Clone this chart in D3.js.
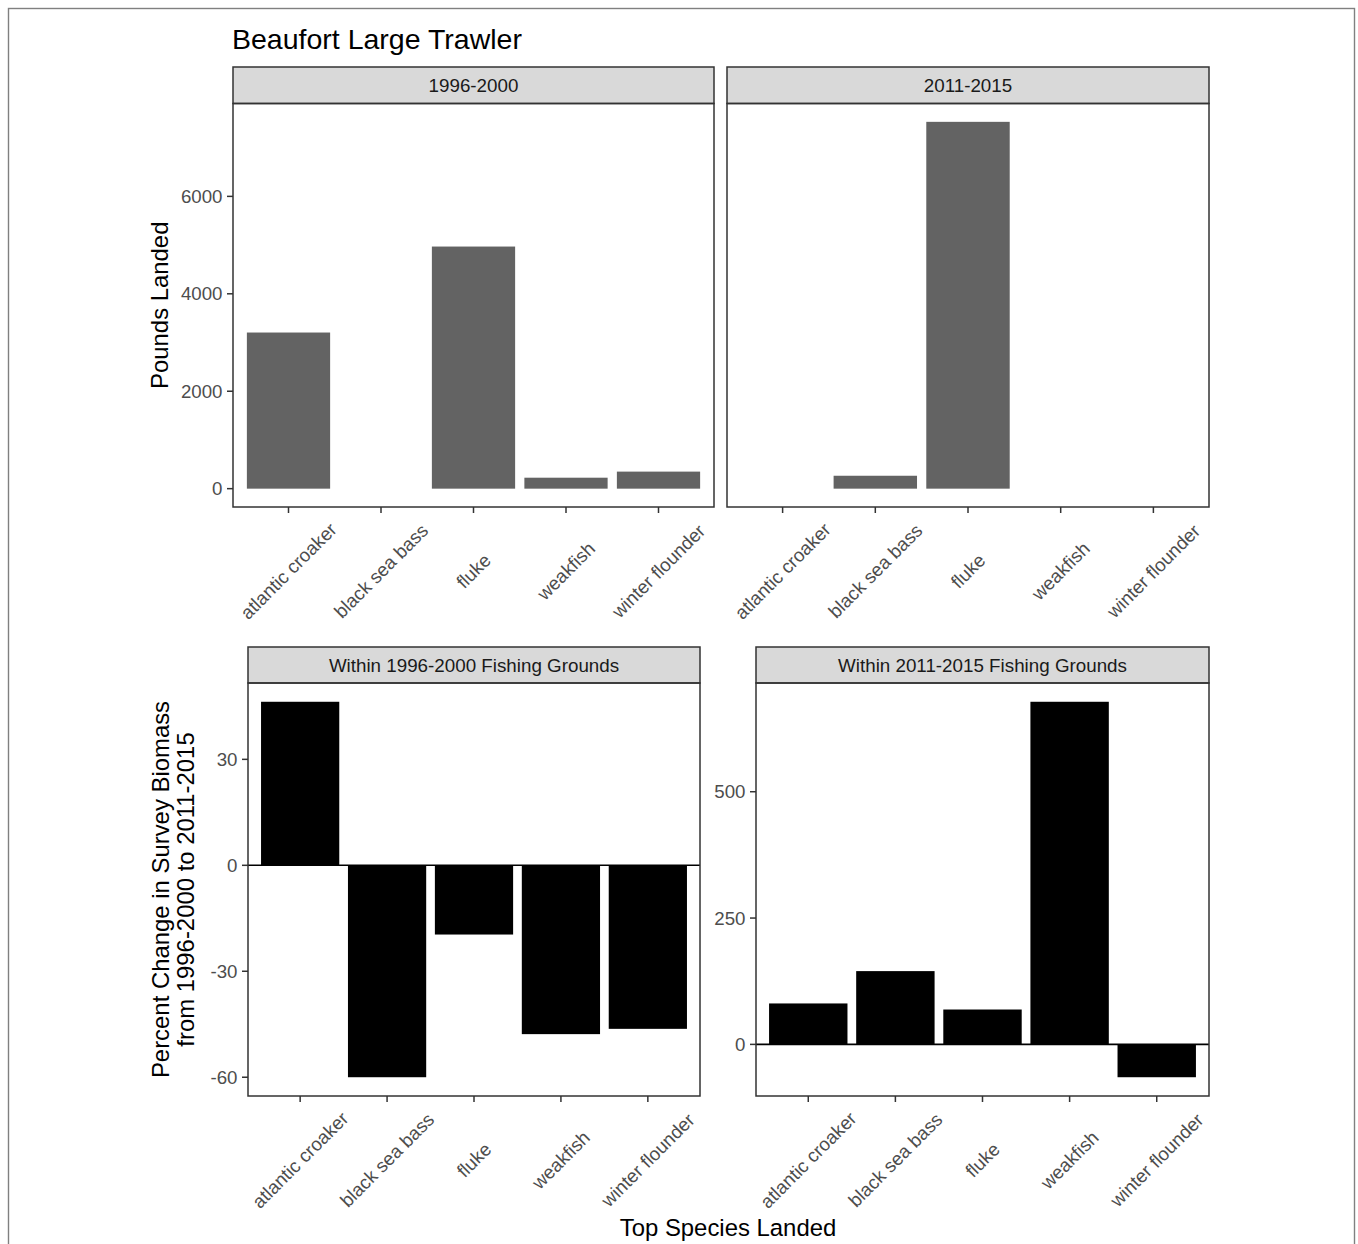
<!DOCTYPE html>
<html>
<head>
<meta charset="utf-8">
<script src="https://cdn.jsdelivr.net/npm/d3@7"></script>
<style>
  html, body { margin: 0; padding: 0; background: #fff; }
  svg { display: block; font-family: "Liberation Sans", Arial, Helvetica, sans-serif; }
</style>
</head>
<body>
<svg id="chart" width="1358" height="1244"></svg>
<script>
// ---------------- data ----------------
const species = ["atlantic croaker", "black sea bass", "fluke", "weakfish", "winter flounder"];
const periods = ["1996-2000", "2011-2015"];
const landed_1996_2000 = [3205, null, 4970, 225, 350];
const landed_2011_2015 = [null, 265, 7530, null, null];
const changeGrounds = ["Within 1996-2000 Fishing Grounds", "Within 2011-2015 Fishing Grounds"];
const change_1996_2000 = [46.3, -60.0, -19.6, -47.8, -46.3];
const change_2011_2015 = [81, 145, 69, 678, -65];
const landedTicks = [0, 2000, 4000, 6000];
const changeTicks9600 = [-60, -30, 0, 30];
const changeTicks1115 = [0, 250, 500];

// ---------------- helpers ----------------
const svg = d3.select("#chart");
const TICK_COLOR = "#333333", LABEL_COLOR = "#4D4D4D";
const FS_TICK = 18.7, FS_STRIP = 18.8, FS_AXIS = 23.9, FS_TITLE = 28.5;

// outer frame
svg.append("rect").attr("x", 8.5).attr("y", 8.5).attr("width", 1346).attr("height", 1270)
  .attr("fill", "none").attr("stroke", "#808080").attr("stroke-width", 1.4);

function expandDomain(vals) {
  const v = vals.filter(d => d != null).concat([0]);
  const [lo, hi] = d3.extent(v);
  const r = hi - lo;
  return [lo - 0.05 * r, hi + 0.05 * r];
}

function panel(opts) {
  const { left, right, stripTop, top, bottom, label, values, yScale, ticks, showY, fill, zeroLine } = opts;
  const g = svg.append("g");
  const x = d3.scaleBand().domain(species).range([left, right]).paddingInner(0.1).paddingOuter(0.15);
  // strip
  g.append("rect").attr("x", left).attr("y", stripTop).attr("width", right - left).attr("height", top - stripTop)
    .attr("fill", "#D9D9D9").attr("stroke", TICK_COLOR).attr("stroke-width", 1.5);
  g.append("text").attr("x", (left + right) / 2).attr("y", (stripTop + top) / 2)
    .attr("text-anchor", "middle").attr("dominant-baseline", "central")
    .attr("font-size", FS_STRIP).attr("fill", "#1A1A1A").text(label);
  // bars
  const data = species.map((s, i) => ({ s, v: values[i] })).filter(d => d.v != null);
  g.selectAll("rect.bar").data(data).enter().append("rect").attr("class", "bar")
    .attr("x", d => x(d.s)).attr("width", x.bandwidth())
    .attr("y", d => yScale(Math.max(0, d.v)))
    .attr("height", d => Math.abs(yScale(d.v) - yScale(0)))
    .attr("fill", fill);
  if (zeroLine) {
    g.append("line").attr("x1", left).attr("x2", right).attr("y1", yScale(0)).attr("y2", yScale(0))
      .attr("stroke", "#000").attr("stroke-width", 1.6);
  }
  // border
  g.append("rect").attr("x", left).attr("y", top).attr("width", right - left).attr("height", bottom - top)
    .attr("fill", "none").attr("stroke", TICK_COLOR).attr("stroke-width", 1.5);
  // x ticks + labels
  species.forEach(s => {
    const cx = x(s) + x.bandwidth() / 2;
    g.append("line").attr("x1", cx).attr("x2", cx).attr("y1", bottom).attr("y2", bottom + 6)
      .attr("stroke", TICK_COLOR).attr("stroke-width", 1.5);
    g.append("text").attr("transform", `translate(${cx},${bottom + 64}) rotate(-45)`)
      .attr("text-anchor", "middle").attr("dominant-baseline", "central")
      .attr("font-size", FS_TICK).attr("fill", LABEL_COLOR).text(s);
  });
  // y ticks
  if (showY) {
    ticks.forEach(t => {
      const yy = yScale(t);
      g.append("line").attr("x1", left - 6).attr("x2", left).attr("y1", yy).attr("y2", yy)
        .attr("stroke", TICK_COLOR).attr("stroke-width", 1.5);
      g.append("text").attr("x", left - 10.5).attr("y", yy)
        .attr("text-anchor", "end").attr("dominant-baseline", "central")
        .attr("font-size", FS_TICK).attr("fill", LABEL_COLOR).text(t);
    });
  }
}

// ---------------- top row: pounds landed ----------------
const topStrip = 67, topTop = 103.5, topBottom = 507;
const yLanded = d3.scaleLinear().domain(expandDomain(landed_1996_2000.concat(landed_2011_2015))).range([topBottom, topTop]);
panel({ left: 233, right: 714, stripTop: topStrip, top: topTop, bottom: topBottom, label: periods[0],
  values: landed_1996_2000, yScale: yLanded, ticks: landedTicks, showY: true, fill: "#636363", zeroLine: false });
panel({ left: 727, right: 1209, stripTop: topStrip, top: topTop, bottom: topBottom, label: periods[1],
  values: landed_2011_2015, yScale: yLanded, ticks: landedTicks, showY: false, fill: "#636363", zeroLine: false });

svg.append("text").attr("x", 232).attr("y", 49).attr("font-size", FS_TITLE).attr("fill", "#000")
  .text("Beaufort Large Trawler");
svg.append("text").attr("transform", `translate(159,${(topTop + topBottom) / 2}) rotate(-90)`)
  .attr("text-anchor", "middle").attr("dominant-baseline", "central")
  .attr("font-size", FS_AXIS).attr("fill", "#000").text("Pounds Landed");

// ---------------- bottom row: percent change ----------------
const botStrip = 647, botTop = 683, botBottom = 1096;
const yC1 = d3.scaleLinear().domain(expandDomain(change_1996_2000)).range([botBottom, botTop]);
const yC2 = d3.scaleLinear().domain(expandDomain(change_2011_2015)).range([botBottom, botTop]);
panel({ left: 248, right: 700, stripTop: botStrip, top: botTop, bottom: botBottom, label: changeGrounds[0],
  values: change_1996_2000, yScale: yC1, ticks: changeTicks9600, showY: true, fill: "#000", zeroLine: true });
panel({ left: 756, right: 1209, stripTop: botStrip, top: botTop, bottom: botBottom, label: changeGrounds[1],
  values: change_2011_2015, yScale: yC2, ticks: changeTicks1115, showY: true, fill: "#000", zeroLine: true });

const midB = (botTop + botBottom) / 2;
svg.append("text").attr("transform", `translate(160,${midB}) rotate(-90)`)
  .attr("text-anchor", "middle").attr("dominant-baseline", "central")
  .attr("font-size", FS_AXIS).attr("fill", "#000").text("Percent Change in Survey Biomass");
svg.append("text").attr("transform", `translate(185,${midB}) rotate(-90)`)
  .attr("text-anchor", "middle").attr("dominant-baseline", "central")
  .attr("font-size", FS_AXIS).attr("fill", "#000").text("from 1996-2000 to 2011-2015");
svg.append("text").attr("x", 728).attr("y", 1236).attr("text-anchor", "middle")
  .attr("font-size", FS_AXIS).attr("fill", "#000").text("Top Species Landed");
</script>
</body>
</html>
